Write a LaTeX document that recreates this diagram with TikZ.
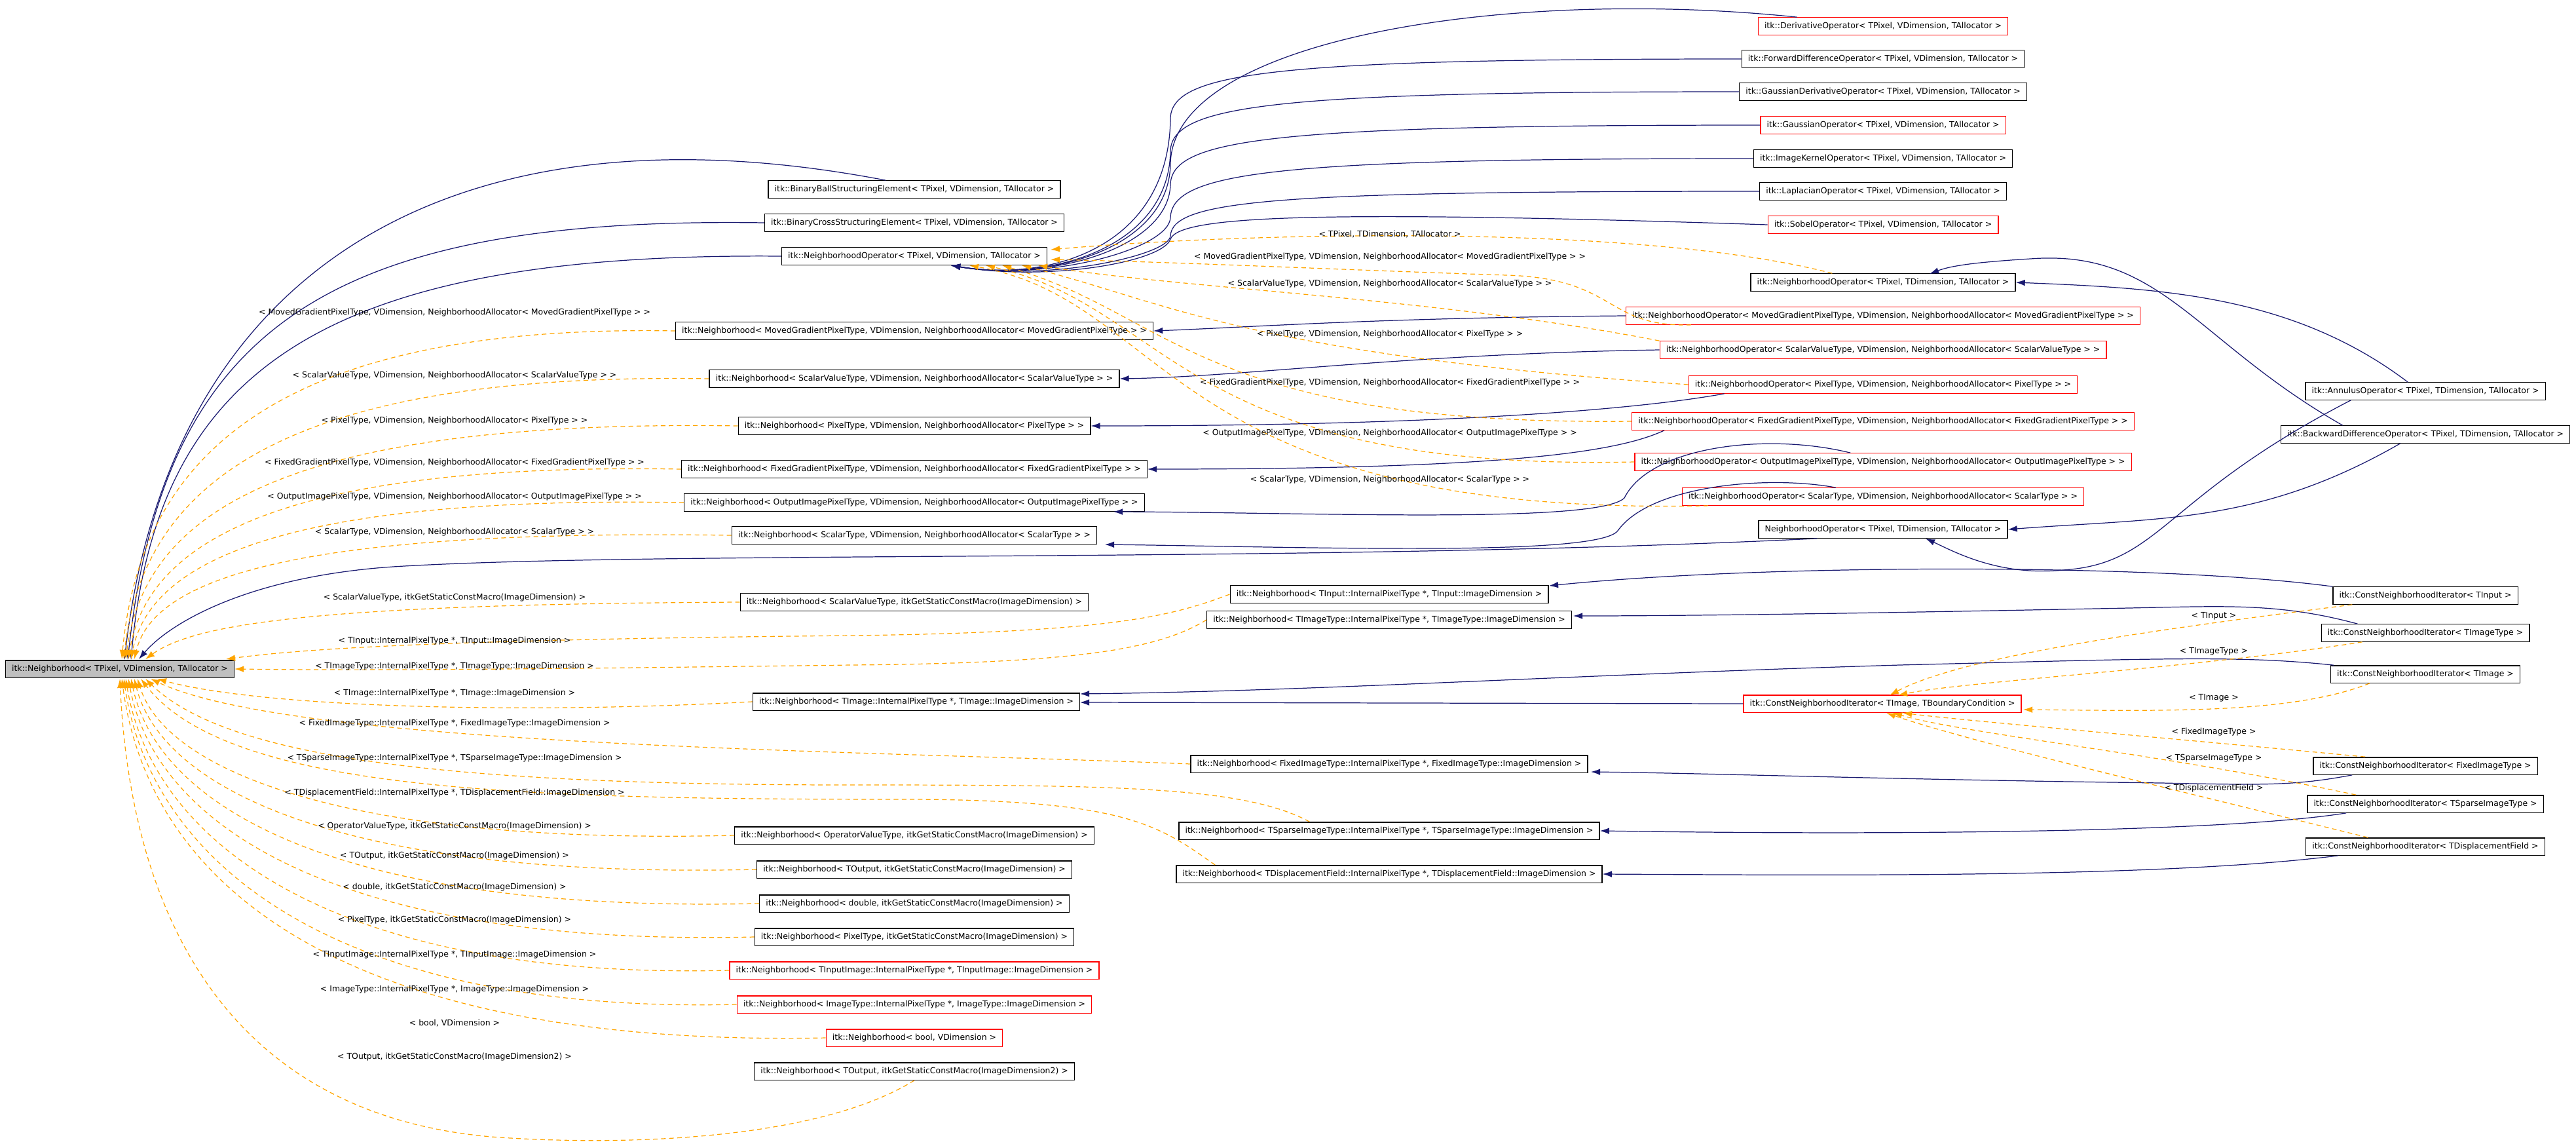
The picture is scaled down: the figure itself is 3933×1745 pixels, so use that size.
\documentclass[tikz,border=0pt]{standalone}
\usepackage{fontspec}
\setmainfont{DejaVu Sans}
\usetikzlibrary{arrows.meta}
\definecolor{navy}{RGB}{25,25,112}
\definecolor{org}{RGB}{255,165,0}
\begin{document}
\begin{tikzpicture}[x=0.02cm,y=-0.02cm,
 box/.style={draw=black,line width=0.75pt,fill=white,minimum height=15pt,inner xsep=5.5pt,inner ysep=0pt,font=\fontsize{7.1}{8}\selectfont},
 rbox/.style={box,draw=red},
 rootbox/.style={box,fill={rgb,255:red,191;green,191;blue,191}},
 inh/.style={navy,line width=0.7pt,-{Latex[length=8pt,width=5.5pt]}},
 tpl/.style={org,line width=0.7pt,dash pattern=on 4pt off 3pt,-{Latex[length=8pt,width=5.5pt]}},
 lab/.style={font=\fontsize{7.1}{8}\selectfont,inner sep=0pt}]
\useasboundingbox (0,0) rectangle (3933,1745);
% ---------- nodes
\node[rootbox] (root) at (183,1021) {itk::Neighborhood< TPixel, VDimension, TAllocator >};
\node[box] (bball) at (1396,289) {itk::BinaryBallStructuringElement< TPixel, VDimension, TAllocator >};
\node[box] (bcross) at (1396,340) {itk::BinaryCrossStructuringElement< TPixel, VDimension, TAllocator >};
\node[box] (nop) at (1396,391) {itk::NeighborhoodOperator< TPixel, VDimension, TAllocator >};
\node[box] (nmoved) at (1396,505) {itk::Neighborhood< MovedGradientPixelType, VDimension, NeighborhoodAllocator< MovedGradientPixelType > >};
\node[box] (nsv) at (1396,578) {itk::Neighborhood< ScalarValueType, VDimension, NeighborhoodAllocator< ScalarValueType > >};
\node[box] (npix) at (1396,650) {itk::Neighborhood< PixelType, VDimension, NeighborhoodAllocator< PixelType > >};
\node[box] (nfix) at (1396,716) {itk::Neighborhood< FixedGradientPixelType, VDimension, NeighborhoodAllocator< FixedGradientPixelType > >};
\node[box] (nout) at (1396,767) {itk::Neighborhood< OutputImagePixelType, VDimension, NeighborhoodAllocator< OutputImagePixelType > >};
\node[box] (nsc) at (1396,817) {itk::Neighborhood< ScalarType, VDimension, NeighborhoodAllocator< ScalarType > >};
\node[box] (nsvm) at (1396,919) {itk::Neighborhood< ScalarValueType, itkGetStaticConstMacro(ImageDimension) >};
\node[box] (ntin) at (2121,907) {itk::Neighborhood< TInput::InternalPixelType *, TInput::ImageDimension >};
\node[box] (ntimt) at (2121,946) {itk::Neighborhood< TImageType::InternalPixelType *, TImageType::ImageDimension >};
\node[box] (ntim) at (1399,1071) {itk::Neighborhood< TImage::InternalPixelType *, TImage::ImageDimension >};
\node[box] (nfim) at (2121,1166) {itk::Neighborhood< FixedImageType::InternalPixelType *, FixedImageType::ImageDimension >};
\node[box] (nsp) at (2121,1268) {itk::Neighborhood< TSparseImageType::InternalPixelType *, TSparseImageType::ImageDimension >};
\node[box] (ndisp) at (2121,1334) {itk::Neighborhood< TDisplacementField::InternalPixelType *, TDisplacementField::ImageDimension >};
\node[box] (nopv) at (1396,1275) {itk::Neighborhood< OperatorValueType, itkGetStaticConstMacro(ImageDimension) >};
\node[box] (ntout) at (1396,1327) {itk::Neighborhood< TOutput, itkGetStaticConstMacro(ImageDimension) >};
\node[box] (ndbl) at (1396,1379) {itk::Neighborhood< double, itkGetStaticConstMacro(ImageDimension) >};
\node[box] (npixm) at (1396,1430) {itk::Neighborhood< PixelType, itkGetStaticConstMacro(ImageDimension) >};
\node[rbox] (ntinim) at (1396,1481) {itk::Neighborhood< TInputImage::InternalPixelType *, TInputImage::ImageDimension >};
\node[rbox] (nimt) at (1396,1533) {itk::Neighborhood< ImageType::InternalPixelType *, ImageType::ImageDimension >};
\node[rbox] (nbool) at (1396,1584) {itk::Neighborhood< bool, VDimension >};
\node[box] (ntout2) at (1396,1635) {itk::Neighborhood< TOutput, itkGetStaticConstMacro(ImageDimension2) >};
% right operator column
\node[rbox] (deriv) at (2875,40) {itk::DerivativeOperator< TPixel, VDimension, TAllocator >};
\node[box] (fwd) at (2875,90) {itk::ForwardDifferenceOperator< TPixel, VDimension, TAllocator >};
\node[box] (gder) at (2875,140) {itk::GaussianDerivativeOperator< TPixel, VDimension, TAllocator >};
\node[rbox] (gauss) at (2875,191) {itk::GaussianOperator< TPixel, VDimension, TAllocator >};
\node[box] (ikern) at (2875,242) {itk::ImageKernelOperator< TPixel, VDimension, TAllocator >};
\node[box] (lap) at (2875,292) {itk::LaplacianOperator< TPixel, VDimension, TAllocator >};
\node[rbox] (sobel) at (2875,343) {itk::SobelOperator< TPixel, VDimension, TAllocator >};
\node[box] (nopT) at (2875,431) {itk::NeighborhoodOperator< TPixel, TDimension, TAllocator >};
\node[rbox] (omoved) at (2875,482) {itk::NeighborhoodOperator< MovedGradientPixelType, VDimension, NeighborhoodAllocator< MovedGradientPixelType > >};
\node[rbox] (osv) at (2875,534) {itk::NeighborhoodOperator< ScalarValueType, VDimension, NeighborhoodAllocator< ScalarValueType > >};
\node[rbox] (opix) at (2875,587) {itk::NeighborhoodOperator< PixelType, VDimension, NeighborhoodAllocator< PixelType > >};
\node[rbox] (ofix) at (2875,643) {itk::NeighborhoodOperator< FixedGradientPixelType, VDimension, NeighborhoodAllocator< FixedGradientPixelType > >};
\node[rbox] (oout) at (2875,705) {itk::NeighborhoodOperator< OutputImagePixelType, VDimension, NeighborhoodAllocator< OutputImagePixelType > >};
\node[rbox] (osc) at (2875,758) {itk::NeighborhoodOperator< ScalarType, VDimension, NeighborhoodAllocator< ScalarType > >};
\node[box] (nopN) at (2875,808) {NeighborhoodOperator< TPixel, TDimension, TAllocator >};
\node[rbox] (cni) at (2874,1074) {itk::ConstNeighborhoodIterator< TImage, TBoundaryCondition >};
% far right
\node[box] (annulus) at (3703,597) {itk::AnnulusOperator< TPixel, TDimension, TAllocator >};
\node[box] (backward) at (3703,663) {itk::BackwardDifferenceOperator< TPixel, TDimension, TAllocator >};
\node[box] (itin) at (3703,909) {itk::ConstNeighborhoodIterator< TInput >};
\node[box] (itimt) at (3703,966) {itk::ConstNeighborhoodIterator< TImageType >};
\node[box] (itim) at (3703,1029) {itk::ConstNeighborhoodIterator< TImage >};
\node[box] (ifim) at (3703,1169) {itk::ConstNeighborhoodIterator< FixedImageType >};
\node[box] (isp) at (3703,1227) {itk::ConstNeighborhoodIterator< TSparseImageType >};
\node[box] (idisp) at (3703,1292) {itk::ConstNeighborhoodIterator< TDisplacementField >};
% ---------- solid inheritance to root
\draw[inh] (bball.north west)++(180,0) .. controls (700,150) and (260,400) .. (190,1007);
\draw[inh] (bcross.west) .. controls (500,330) and (250,500) .. (195,1007);
\draw[inh] (nop.west) .. controls (500,385) and (240,560) .. (200,1007);
\draw[inh] (nopN.south west)++(90,0) .. controls (2000,860) and (1000,840) .. (600,865) .. controls (380,880) and (260,950) .. (212,1006);
% ops to nop
\draw[inh] (deriv.north west)++(60,0) .. controls (2300,-20) and (1790,60) .. (1787,250) .. controls (1785,380) and (1600,430) .. (1452,405);
\draw[inh] (fwd.west) .. controls (1950,90) and (1790,110) .. (1787,180) .. controls (1785,380) and (1600,430) .. (1452,405);
\draw[inh] (gder.west) .. controls (1950,140) and (1790,160) .. (1787,230) .. controls (1785,380) and (1600,430) .. (1452,405);
\draw[inh] (gauss.west) .. controls (1950,191) and (1790,211) .. (1787,281) .. controls (1785,380) and (1600,430) .. (1452,405);
\draw[inh] (ikern.west) .. controls (1950,242) and (1790,262) .. (1787,332) .. controls (1785,380) and (1600,430) .. (1452,405);
\draw[inh] (lap.west) .. controls (1950,292) and (1790,305) .. (1787,360) .. controls (1785,390) and (1600,430) .. (1452,405);
\draw[inh] (sobel.west) .. controls (2000,320) and (1800,330) .. (1787,365) .. controls (1775,400) and (1600,430) .. (1452,405);
% red ops to neighborhoods
\draw[inh] (omoved.west) .. controls (2100,485) and (1900,500) .. (nmoved.east);
\draw[inh] (osv.west) .. controls (2150,540) and (1900,575) .. (nsv.east);
\draw[inh] (opix.south west)++(55,0) .. controls (2500,625) and (2200,650) .. (npix.east);
\draw[inh] (ofix.south west)++(50,0) .. controls (2470,690) and (2300,716) .. (nfix.east);
\draw[inh] (oout.north west)++(330,0) .. controls (2700,660) and (2520,680) .. (2480,760) .. controls (2440,800) and (2000,782) .. (1700,781);
\draw[inh] (osc.north west)++(235,0) .. controls (2700,725) and (2520,740) .. (2470,810) .. controls (2440,850) and (2000,835) .. (1687,831);
% far right
\draw[inh] (backward.north west)++(95,0) .. controls (3350,520) and (3300,380) .. (3100,395) .. controls (3020,400) and (2980,405) .. (2946,418);
\draw[inh] (annulus.north west)++(157,0) .. controls (3500,450) and (3300,440) .. (nopT.east);
\draw[inh] (annulus.south west)++(70,0) .. controls (3300,760) and (3300,860) .. (3150,870) .. controls (3050,880) and (2980,840) .. (2940,822);
\draw[inh] (backward.south west)++(183,0) .. controls (3450,800) and (3300,790) .. (nopN.east);
% iterators
\draw[inh] (itin.north west) .. controls (3300,860) and (2700,860) .. (2365,894);
\draw[inh] (itimt.north west)++(56,0) .. controls (3480,920) and (3400,925) .. (3250,928) .. controls (2900,935) and (2600,940) .. (2402,940);
\draw[inh] (itim.north west)++(5,0) .. controls (3420,1000) and (3300,1005) .. (2900,1015) .. controls (2400,1030) and (2000,1055) .. (1649,1059);
\draw[inh] (cni.west) -- (1649,1072);
\draw[inh] (ifim.south west)++(60,0) .. controls (3500,1200) and (3450,1198) .. (3300,1195) .. controls (2900,1190) and (2600,1180) .. (2429,1178);
\draw[inh] (isp.south west)++(60,0) .. controls (3400,1270) and (2900,1275) .. (nsp.east);
\draw[inh] (idisp.south west)++(50,0) .. controls (3300,1340) and (2800,1336) .. (ndisp.east);
% ---------- dashed: ops -> nop
\draw[tpl] (nopT.north west)++(125,0) .. controls (2500,340) and (1900,355) .. (1604,381);
\draw[tpl] (omoved.south west)++(100,0) .. controls (2450,500) and (2470,425) .. (2300,420) .. controls (2000,410) and (1800,400) .. (1604,396);
\draw[tpl] (osv.north west) .. controls (2200,455) and (1800,440) .. (1585,405);
\draw[tpl] (opix.west) .. controls (1900,540) and (1780,460) .. (1560,405);
\draw[tpl] (ofix.west) .. controls (1830,650) and (1790,480) .. (1530,405);
\draw[tpl] (oout.west) .. controls (1800,720) and (1790,470) .. (1505,405);
\draw[tpl] (osc.south west)++(40,0) .. controls (1780,790) and (1790,460) .. (1480,405);
\node[lab] (l1) at (2122,357) {< TPixel, TDimension, TAllocator >};
\node[lab] (l2) at (2122,392) {< MovedGradientPixelType, VDimension, NeighborhoodAllocator< MovedGradientPixelType > >};
\node[lab] (l3) at (2122,433) {< ScalarValueType, VDimension, NeighborhoodAllocator< ScalarValueType > >};
\node[lab] (l4) at (2122,510) {< PixelType, VDimension, NeighborhoodAllocator< PixelType > >};
\node[lab] (l5) at (2122,584) {< FixedGradientPixelType, VDimension, NeighborhoodAllocator< FixedGradientPixelType > >};
\node[lab] (l6) at (2122,661) {< OutputImagePixelType, VDimension, NeighborhoodAllocator< OutputImagePixelType > >};
\node[lab] (l7) at (2122,732) {< ScalarType, VDimension, NeighborhoodAllocator< ScalarType > >};
% ---------- dashed: neighborhoods -> root (from above)
\draw[tpl] (nmoved.west) .. controls (450,495) and (216,677) .. (186,1006);
\draw[tpl] (nsv.west) .. controls (450,568) and (219,728) .. (189,1006);
\draw[tpl] (npix.west) .. controls (450,640) and (222,775) .. (192,1006);
\draw[tpl] (nfix.west) .. controls (450,706) and (226,818) .. (196,1006);
\draw[tpl] (nout.west) .. controls (450,757) and (230,851) .. (200,1006);
\draw[tpl] (nsc.west) .. controls (450,807) and (235,883) .. (205,1006);
\draw[tpl] (nsvm.west) .. controls (500,922) and (300,950) .. (222,1006);
\draw[tpl] (ntin.west) .. controls (1790,940) and (1700,965) .. (1300,970) .. controls (800,975) and (500,985) .. (345,1006);
\draw[tpl] (ntimt.west) .. controls (1770,990) and (1650,1012) .. (1300,1015) .. controls (900,1020) and (600,1024) .. (root.east);
\draw[tpl] (ntim.west) .. controls (800,1090) and (400,1080) .. (240,1036);
\draw[tpl] (nfim.west) .. controls (1300,1145) and (450,1140) .. (230,1036);
\draw[tpl] (nsp.north west)++(200,0) .. controls (1900,1200) and (1700,1198) .. (1300,1198) .. controls (700,1198) and (350,1160) .. (222,1036);
\draw[tpl] (ndisp.north west)++(60,0) .. controls (1770,1260) and (1720,1222) .. (1400,1220) .. controls (800,1220) and (350,1210) .. (215,1036);
\draw[tpl] (nopv.west) .. controls (500,1290) and (250,1167) .. (210,1036);
\draw[tpl] (ntout.west) .. controls (500,1342) and (245,1196) .. (205,1036);
\draw[tpl] (ndbl.west) .. controls (500,1394) and (240,1225) .. (200,1036);
\draw[tpl] (npixm.west) .. controls (500,1445) and (236,1253) .. (196,1036);
\draw[tpl] (ntinim.west) .. controls (500,1496) and (232,1281) .. (192,1036);
\draw[tpl] (nimt.west) .. controls (500,1548) and (229,1309) .. (189,1036);
\draw[tpl] (nbool.west) .. controls (500,1599) and (226,1337) .. (186,1036);
\draw[tpl] (ntout2.south) .. controls (1250,1740) and (950,1750) .. (750,1735) .. controls (350,1700) and (200,1400) .. (183,1036);
% left labels
\node[lab] (m1) at (694,477) {< MovedGradientPixelType, VDimension, NeighborhoodAllocator< MovedGradientPixelType > >};
\node[lab] (m2) at (694,573) {< ScalarValueType, VDimension, NeighborhoodAllocator< ScalarValueType > >};
\node[lab] (m3) at (694,642) {< PixelType, VDimension, NeighborhoodAllocator< PixelType > >};
\node[lab] (m4) at (694,706) {< FixedGradientPixelType, VDimension, NeighborhoodAllocator< FixedGradientPixelType > >};
\node[lab] (m5) at (694,758) {< OutputImagePixelType, VDimension, NeighborhoodAllocator< OutputImagePixelType > >};
\node[lab] (m6) at (694,812) {< ScalarType, VDimension, NeighborhoodAllocator< ScalarType > >};
\node[lab] (m7) at (694,912) {< ScalarValueType, itkGetStaticConstMacro(ImageDimension) >};
\node[lab] (m8) at (694,978) {< TInput::InternalPixelType *, TInput::ImageDimension >};
\node[lab] (m9) at (694,1017) {< TImageType::InternalPixelType *, TImageType::ImageDimension >};
\node[lab] (m10) at (694,1058) {< TImage::InternalPixelType *, TImage::ImageDimension >};
\node[lab] (m11) at (694,1104) {< FixedImageType::InternalPixelType *, FixedImageType::ImageDimension >};
\node[lab] (m12) at (694,1157) {< TSparseImageType::InternalPixelType *, TSparseImageType::ImageDimension >};
\node[lab] (m13) at (694,1210) {< TDisplacementField::InternalPixelType *, TDisplacementField::ImageDimension >};
\node[lab] (m14) at (694,1261) {< OperatorValueType, itkGetStaticConstMacro(ImageDimension) >};
\node[lab] (m15) at (694,1306) {< TOutput, itkGetStaticConstMacro(ImageDimension) >};
\node[lab] (m16) at (694,1354) {< double, itkGetStaticConstMacro(ImageDimension) >};
\node[lab] (m17) at (694,1404) {< PixelType, itkGetStaticConstMacro(ImageDimension) >};
\node[lab] (m18) at (694,1457) {< TInputImage::InternalPixelType *, TInputImage::ImageDimension >};
\node[lab] (m19) at (694,1510) {< ImageType::InternalPixelType *, ImageType::ImageDimension >};
\node[lab] (m20) at (694,1561) {< bool, VDimension >};
\node[lab] (m21) at (694,1613) {< TOutput, itkGetStaticConstMacro(ImageDimension2) >};
% ---------- dashed: iterators -> cni
\draw[tpl] (itin.south west)++(30,0) .. controls (3300,960) and (3000,1000) .. (2885,1061);
\draw[tpl] (itimt.south west)++(63,0) .. controls (3350,1020) and (3000,1040) .. (2898,1061);
\draw[tpl] (itim.south west)++(60,0) .. controls (3500,1090) and (3300,1085) .. (3089,1083);
\draw[tpl] (ifim.north west)++(80,0) .. controls (3350,1130) and (3000,1100) .. (2905,1088);
\draw[tpl] (isp.north west)++(75,0) .. controls (3300,1150) and (3000,1120) .. (2890,1088);
\draw[tpl] (idisp.north west)++(95,0) .. controls (3300,1200) and (3000,1130) .. (2880,1088);
\node[lab] (r1) at (3380,940) {< TInput >};
\node[lab] (r2) at (3380,994) {< TImageType >};
\node[lab] (r3) at (3380,1065) {< TImage >};
\node[lab] (r4) at (3380,1117) {< FixedImageType >};
\node[lab] (r5) at (3380,1157) {< TSparseImageType >};
\node[lab] (r6) at (3380,1203) {< TDisplacementField >};
\end{tikzpicture}
\end{document}
